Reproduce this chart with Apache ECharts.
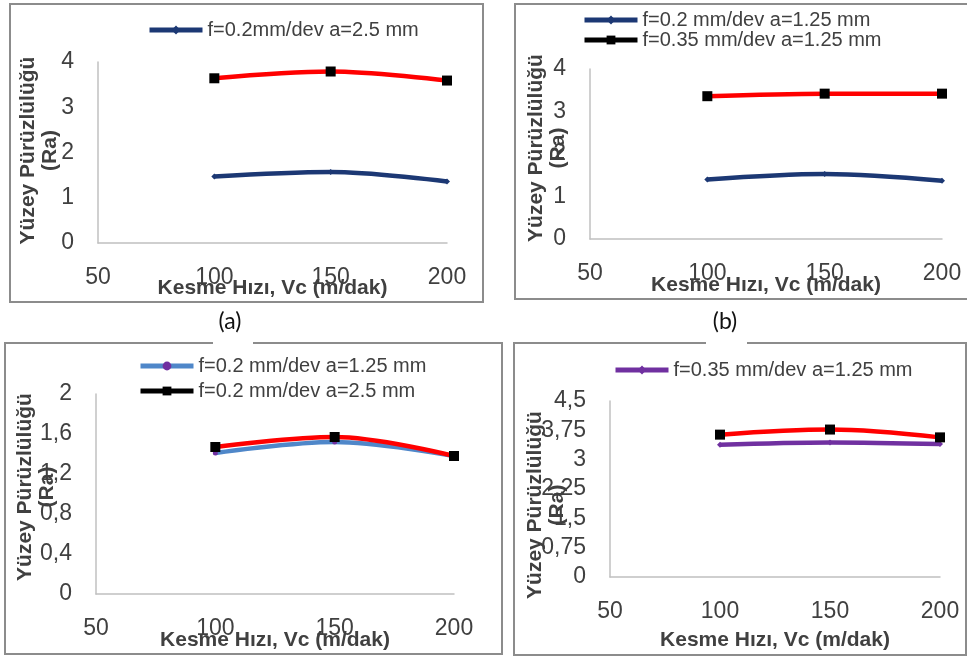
<!DOCTYPE html>
<html>
<head>
<meta charset="utf-8">
<script src="https://cdn.jsdelivr.net/npm/echarts@6/dist/echarts.min.js"></script>
<style>
  html, body { margin: 0; padding: 0; background: #fff; }
  #chart { width: 967px; height: 657px; }
</style>
</head>
<body>
<div id="chart"></div>
<script>
// Kesme hızı (x)
const speeds = [100, 150, 200]
const xTicks = { min: 50, max: 200, interval: 50 }

// (a)
const aNavy = [1.47, 1.57, 1.36]
const aRed = [3.64, 3.79, 3.59]
// (b)
const bNavy = [1.40, 1.53, 1.37]
const bRed = [3.36, 3.42, 3.42]
// (c)
const cBlue = [1.41, 1.52, 1.38]
const cRed = [1.47, 1.57, 1.38]
// (d)
const dPurple = [3.38, 3.44, 3.40]
const dRed = [3.64, 3.77, 3.57]

// y eksenleri
const yRanges = [
  { max: 4, interval: 1 },
  { max: 4, interval: 1 },
  { max: 2, interval: 0.4 },
  { max: 4.5, interval: 0.75 }
]

const names = {
  aNavy: 'f=0.2mm/dev a=2.5 mm',
  bNavy: 'f=0.2 mm/dev a=1.25 mm',
  bRed: 'f=0.35 mm/dev a=1.25 mm',
  cBlue: 'f=0.2 mm/dev a=1.25 mm\u00a0',
  cRed: 'f=0.2 mm/dev a=2.5 mm',
  dPurple: 'f=0.35 mm/dev a=1.25 mm\u00a0',
  red: 'f=0.35 mm/dev a=2.5 mm'
}

const NAVY = '#1c3874'
const RED = '#ff0000'
const LBLUE = '#4f87c9'
const PURPLE = '#7030a0'
const TXT = '#404040'
const FONT = '"Liberation Sans", Arial, sans-serif'

const pairs = arr => arr.map((v, i) => [speeds[i], v])
const comma = v => String(+v.toFixed(2)).replace('.', ',')

// grid yerleşimi (piksel)
const grids = [
  { left: 98, top: 62, width: 349, height: 181 },
  { left: 590, top: 69, width: 352, height: 170 },
  { left: 96, top: 394, width: 358, height: 200 },
  { left: 610, top: 401, width: 330, height: 176 }
]
const xNameGap = [35, 36, 36, 53]
const yNameGap = [37, 21, 38, 42]
const yNamePad = [[0, 0, 0, 4], [0, 0, 0, 12], [0, 0, 0, 14], [0, 32, 0, 0]]

const xAxis = grids.map((g, i) => ({
  gridIndex: i,
  type: 'value',
  min: xTicks.min, max: xTicks.max, interval: xTicks.interval,
  name: 'Kesme Hızı, Vc (m/dak)',
  nameLocation: 'middle',
  nameGap: xNameGap[i],
  nameMoveOverlap: false,
  nameTextStyle: { fontFamily: FONT, fontSize: 21, fontWeight: 'bold', color: TXT },
  axisLine: { lineStyle: { color: '#c0c0c0', width: 1.5 } },
  axisTick: { show: false },
  splitLine: { show: false },
  axisLabel: { fontFamily: FONT, fontSize: 23, color: TXT, margin: 23 }
}))

const yAxis = grids.map((g, i) => ({
  gridIndex: i,
  type: 'value',
  min: 0, max: yRanges[i].max, interval: yRanges[i].interval,
  name: 'Yüzey Pürüzlülüğü\n(Ra)',
  nameLocation: 'middle',
  nameRotate: 90,
  nameGap: yNameGap[i],
  nameMoveOverlap: false,
  nameTextStyle: {
    fontFamily: FONT, fontSize: 21, fontWeight: 'bold', color: TXT,
    lineHeight: 22, padding: yNamePad[i]
  },
  axisLine: { show: true, lineStyle: { color: '#c0c0c0', width: 1.5 } },
  axisTick: { show: false },
  splitLine: { show: false },
  axisLabel: {
    fontFamily: FONT, fontSize: 23, color: TXT, margin: 24,
    formatter: i >= 2 ? comma : null
  }
}))

function line(name, data, gi, color, symbol, symColor, symSize) {
  return {
    name, type: 'line', xAxisIndex: gi, yAxisIndex: gi,
    data: pairs(data),
    smooth: 0.35,
    symbol, symbolSize: symSize,
    showSymbol: true,
    lineStyle: { color, width: 4.5 },
    itemStyle: { color: symColor },
    z: symbol === 'rect' ? 3 : 2
  }
}

const series = [
  line(names.aNavy, aNavy, 0, NAVY, 'diamond', NAVY, 6),
  line(names.red, aRed, 0, RED, 'rect', '#000', 10),
  line(names.bNavy, bNavy, 1, NAVY, 'diamond', NAVY, 6),
  line(names.bRed, bRed, 1, RED, 'rect', '#000', 10),
  line(names.cBlue, cBlue, 2, LBLUE, 'circle', PURPLE, 5),
  line(names.cRed, cRed, 2, RED, 'rect', '#000', 10),
  line(names.dPurple, dPurple, 3, PURPLE, 'diamond', PURPLE, 6),
  line(names.red + ' ', dRed, 3, RED, 'rect', '#000', 10)
]

const legendBase = {
  orient: 'vertical',
  itemWidth: 53, itemHeight: 11, itemGap: 2,
  lineStyle: { width: 5 },
  textStyle: { fontFamily: FONT, fontSize: 20, color: TXT, lineHeight: 20 },
  selectedMode: false
}
const blackItem = { lineStyle: { color: '#000', width: 5 }, itemStyle: { color: '#000' } }
const legend = [
  { ...legendBase, left: 142, top: 15, data: [names.aNavy] },
  { ...legendBase, left: 577, top: 5, itemGap: 0, data: [names.bNavy, { name: names.bRed, ...blackItem }] },
  { ...legendBase, left: 133, top: 351, itemGap: 5, data: [names.cBlue, { name: names.cRed, ...blackItem }] },
  { ...legendBase, left: 608, top: 355, data: [names.dPurple] }
]

// çerçeveler ve (a)/(b) etiketleri
const BORDER = '#8c8c8c'
const frame = (x, y, w, h) => ({
  type: 'rect', shape: { x, y, width: w, height: h },
  style: { fill: 'none', stroke: BORDER, lineWidth: 2 }, silent: true
})
const gap = (x, y, w) => ({
  type: 'rect', shape: { x, y: y - 3, width: w, height: 6 },
  style: { fill: '#fff' }, silent: true
})
const tag = (x, y, t) => ({
  type: 'text', x, y,
  style: { text: t, fontFamily: 'Lato, "Noto Sans", sans-serif', fontSize: 23, fill: '#111', align: 'center', verticalAlign: 'middle' },
  silent: true
})

const graphic = [
  frame(10, 4, 473, 298),
  frame(515, 4, 454, 295),
  frame(5, 343, 497, 311),
  frame(514, 343, 452, 312),
  gap(213, 343, 40),
  gap(706, 343, 41),
  tag(230, 322, '(a)'),
  tag(725, 322, '(b)')
]

const chart = echarts.init(document.getElementById('chart'))
chart.setOption({
  animation: false,
  backgroundColor: '#fff',
  grid: grids,
  xAxis, yAxis, series, legend, graphic
})
window.addEventListener('resize', chart.resize)
</script>
</body>
</html>
